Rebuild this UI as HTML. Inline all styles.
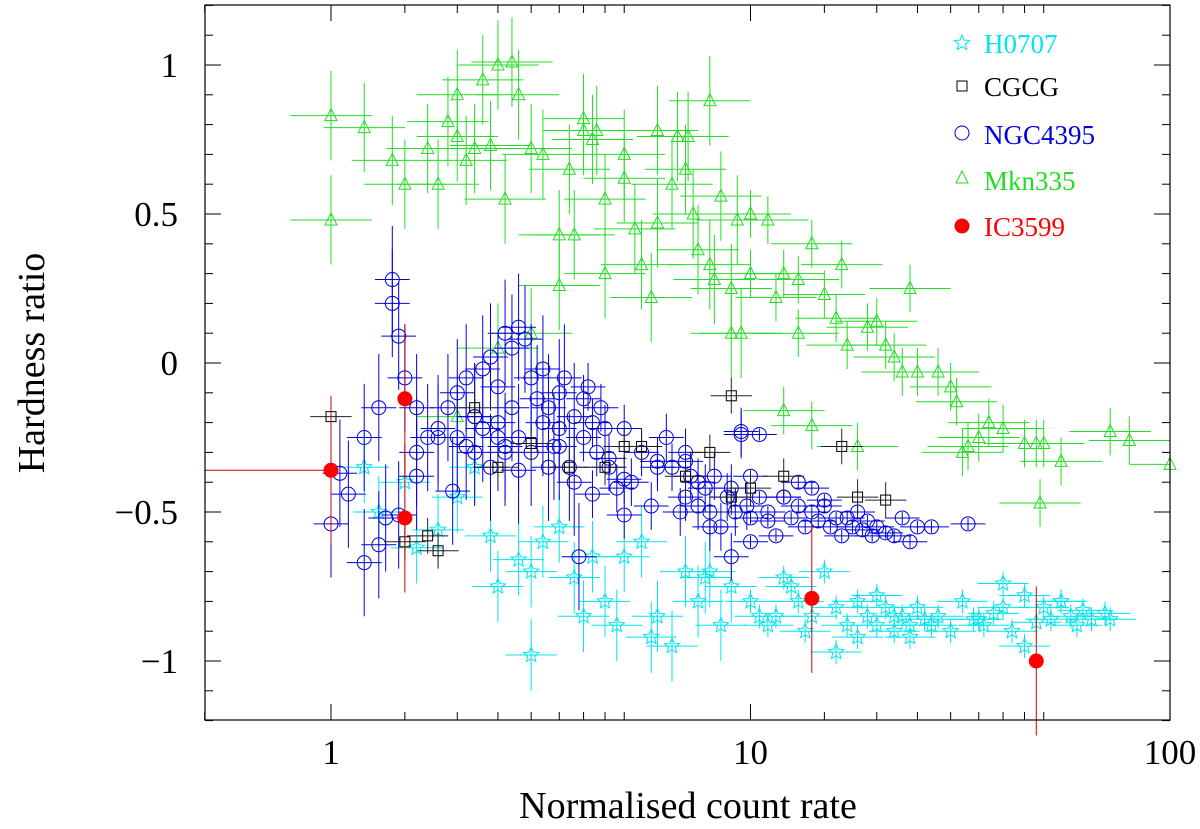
<!DOCTYPE html>
<html><head><meta charset="utf-8"><style>
html,body{margin:0;padding:0;background:#fff;}
svg{display:block;font-family:"Liberation Serif",serif;}
</style></head><body>
<svg id="chart" width="1200" height="829" viewBox="0 0 1200 829">
<g id="marks"></g>
<g id="axes"></g>
<g id="legend">
 <text x="984" y="53" font-size="27" fill="#00e5ee">H0707</text>
 <text x="984" y="96" font-size="27" fill="#000">CGCG</text>
 <text x="984" y="144" font-size="27" fill="#0000dd">NGC4395</text>
 <text x="984" y="190" font-size="27" fill="#22dd22">Mkn335</text>
 <text x="984" y="236" font-size="27" fill="#ff0000">IC3599</text>
</g>
<text x="688" y="818" font-size="38" text-anchor="middle">Normalised count rate</text>
<text transform="translate(44,363) rotate(-90)" font-size="38" text-anchor="middle">Hardness ratio</text>
</svg>
<script>
const xTicks=[1,10,100];
const xTickLabels=["1","10","100"];
const yTicks=[-1,-0.5,0,0.5,1];
const yTickLabels=["\u22121","\u22120.5","0","0.5","1"];
const redX=[1.0,1.5,1.5,14,48];
const redY=[-0.36,-0.12,-0.52,-0.79,-1.0];
const blackX=[1.0,1.5,1.7,1.8,2.2,2.5,3.0,3.7,4.5,5.0,5.5,7.0,8.0,9.0,9.0,10,16.5,18,21,12];
const blackY=[-0.18,-0.60,-0.58,-0.63,-0.15,-0.35,-0.27,-0.35,-0.35,-0.28,-0.28,-0.38,-0.30,-0.11,-0.45,-0.42,-0.28,-0.45,-0.46,-0.38];
const greenX=[1,1,1.2,1.4,1.5,1.7,1.8,1.9,2,2,2.1,2.2,2.3,2.4,2.5,2.6,2.7,2.8,3,3.2,3.5,3.5,3.7,4,4.2,4.3,4.5,4.5,5,5,5.3,5.5,5.8,6,6.5,6.7,7,7.1,7.3,7.5,8,8,8.2,8.5,9,9.3,9.5,10,10,11,11.5,12,13,14,15,16,16.5,17,19,20,21,22,23,24,25,28,30,31,32,33,35,37,40,45,48,50,55,72,80,100,12,14,18,49,2,3,2.5,6,3.8,4,9,13];
const greenY=[0.83,0.48,0.79,0.68,0.60,0.72,0.60,0.81,0.90,0.76,0.68,0.72,0.95,0.73,1.0,0.55,1.01,0.90,0.72,0.70,0.43,0.26,0.65,0.78,0.75,0.78,0.55,0.30,0.70,0.62,0.45,0.33,0.22,0.47,0.60,0.76,0.65,0.76,0.50,0.38,0.88,0.33,0.28,0.56,0.25,0.48,0.10,0.50,0.30,0.48,0.22,0.30,0.28,0.40,0.23,0.15,0.33,0.06,0.12,0.14,0.06,0.02,-0.03,0.25,-0.03,-0.03,-0.08,-0.13,-0.30,-0.28,-0.25,-0.20,-0.22,-0.27,-0.27,-0.27,-0.33,-0.23,-0.26,-0.34,-0.16,-0.21,-0.28,-0.47,-0.18,0.10,0.05,0.78,0.43,0.82,0.10,0.10];
const blueX=[1.4,1.4,1.45,1.5,1.3,1.2,1.1,1.0,1.05,1.2,1.3,1.35,1.6,1.7,1.6,1.8,1.9,2.0,2.0,2.1,2.1,2.2,2.2,2.3,2.3,2.4,2.4,2.5,2.5,2.6,2.6,2.7,2.7,2.8,2.8,2.9,3.0,3.0,3.1,3.2,3.2,3.3,3.4,3.5,3.5,3.6,3.7,3.8,3.9,4.0,4.0,4.1,4.2,4.3,4.4,4.5,4.6,4.8,5.0,5.0,5.2,5.5,5.8,6.0,6.3,6.5,6.8,7.0,7.0,7.2,7.5,7.8,8.0,8.2,8.5,8.8,9.0,9.2,9.5,9.8,10,10,10.5,11,11.5,12,12.5,13,13.5,14,14.5,15,15.5,16,16.5,17,17.5,18,18.5,19,19.5,20,21,22,23,24,25,13,14,15,12,11,10,9,8,7.5,3.8,4.2,2.8,2.2,1.8,1.6,2.5,3.5,6,7,5,4.6,9.5,10.5,27,33,1.45,1.95,2.6,3.3];
const blueY=[0.28,0.20,0.09,-0.05,-0.15,-0.25,-0.44,-0.54,-0.37,-0.67,-0.61,-0.52,-0.38,-0.25,-0.30,-0.22,-0.15,-0.10,-0.25,-0.05,-0.28,-0.18,-0.30,-0.02,-0.22,0.02,-0.35,-0.08,-0.20,0.10,-0.28,0.05,-0.15,0.12,-0.25,0.08,-0.05,-0.30,-0.12,-0.02,-0.20,-0.15,-0.28,-0.10,-0.22,-0.05,-0.35,-0.18,-0.65,-0.12,-0.25,-0.08,-0.20,-0.30,-0.15,-0.22,-0.35,-0.42,-0.51,-0.22,-0.40,-0.30,-0.48,-0.33,-0.25,-0.35,-0.50,-0.30,-0.45,-0.38,-0.48,-0.42,-0.50,-0.38,-0.55,-0.45,-0.42,-0.50,-0.24,-0.48,-0.52,-0.38,-0.45,-0.50,-0.58,-0.45,-0.52,-0.48,-0.55,-0.50,-0.53,-0.48,-0.55,-0.52,-0.58,-0.52,-0.55,-0.50,-0.56,-0.53,-0.58,-0.55,-0.57,-0.58,-0.52,-0.60,-0.55,-0.40,-0.42,-0.46,-0.45,-0.53,-0.60,-0.65,-0.55,-0.40,-0.40,-0.44,-0.36,-0.18,-0.25,-0.15,-0.25,-0.28,-0.35,-0.33,-0.39,-0.32,-0.23,-0.24,-0.55,-0.54,-0.51,-0.43,-0.30,-0.35];
const cyanX=[1.2,1.3,1.5,1.6,1.8,2.0,2.2,2.4,2.5,2.8,3.0,3.0,3.2,3.5,3.8,4.0,4.2,4.5,4.8,5.0,5.5,5.8,6.0,6.5,7.0,7.5,7.8,8.0,8.5,9.0,10,10.5,11,11.5,12,12.5,13,13.5,14,15,16,17,18,19,20,21,22,23,24,25,26,27,28,30,32,34,36,38,40,42,45,48,50,52,55,58,60,62,65,70,72,16,18,20,22,24,35,40,45,55];
const cyanY=[-0.35,-0.50,-0.40,-0.62,-0.56,-0.45,-0.35,-0.58,-0.75,-0.66,-0.98,-0.70,-0.60,-0.55,-0.72,-0.85,-0.65,-0.80,-0.88,-0.65,-0.60,-0.92,-0.85,-0.95,-0.70,-0.80,-0.72,-0.70,-0.88,-0.75,-0.80,-0.85,-0.88,-0.85,-0.72,-0.75,-0.80,-0.90,-0.85,-0.70,-0.82,-0.88,-0.80,-0.85,-0.88,-0.82,-0.90,-0.85,-0.88,-0.82,-0.86,-0.88,-0.85,-0.90,-0.80,-0.86,-0.88,-0.84,-0.82,-0.90,-0.78,-0.87,-0.82,-0.86,-0.80,-0.85,-0.88,-0.83,-0.86,-0.84,-0.86,-0.97,-0.92,-0.78,-0.85,-0.92,-0.86,-0.74,-0.95,-0.80];

const L=205,R=1170,T=5,B=720;
const X=v=>331+419.5*Math.log10(v);
const Y=v=>363-298*v;
const NS='http://www.w3.org/2000/svg';
const marks=document.getElementById('marks');
const axes=document.getElementById('axes');
function mk(tag,attrs,parent){const e=document.createElementNS(NS,tag);for(const k in attrs)e.setAttribute(k,attrs[k]);parent.appendChild(e);return e;}

function errbars(x,y,col,fx,dy,g){
  for(let i=0;i<x.length;i++){
    const cx=X(x[i]),cy=Y(y[i]);
    mk('line',{x1:X(x[i]/fx),x2:Math.min(X(x[i]*fx),R),y1:cy,y2:cy,stroke:col,'stroke-width':1},g);
    const e=typeof dy==='function'?dy(i):dy;
    mk('line',{x1:cx,x2:cx,y1:Y(y[i]+e),y2:Y(y[i]-e),stroke:col,'stroke-width':1},g);
  }
}
function star(cx,cy,r){let p=[];for(let k=0;k<10;k++){const a=-Math.PI/2+k*Math.PI/5;const rr=k%2?r*0.45:r;p.push((cx+rr*Math.cos(a)).toFixed(1)+','+(cy+rr*Math.sin(a)).toFixed(1));}return p.join(' ');}

const gC=mk('g',{},marks);
const gG=mk('g',{},marks);
const gB=mk('g',{},marks);
const gK=mk('g',{},marks);
const gR=mk('g',{},marks);

errbars(cyanX,cyanY,'#00e5ee',1.15,i=>cyanX[i]<10?0.12:0.04,gC);
cyanX.forEach((v,i)=>{const s=mk('polygon',{points:star(X(v),Y(cyanY[i]),8),fill:'none',stroke:'#00e5ee','stroke-width':1},gC);});
errbars(greenX,greenY,'#22dd22',1.25,i=>greenX[i]<10?0.15:0.08,gG);
greenX.forEach((v,i)=>{const cx=X(v),cy=Y(greenY[i]);const s=mk('polygon',{points:`${cx-6},${cy+5} ${cx+6},${cy+5} ${cx},${cy-7}`,fill:'none',stroke:'#22dd22','stroke-width':1},gG);});
errbars(blueX,blueY,'#0000dd',1.1,i=>blueX[i]<4?0.18:(blueX[i]<10?0.08:0.02),gB);
blueX.forEach((v,i)=>{const s=mk('circle',{cx:X(v),cy:Y(blueY[i]),r:7,fill:'none',stroke:'#0000dd','stroke-width':1},gB);});
errbars(blackX,blackY,'#222',1.12,0.06,gK);
blackX.forEach((v,i)=>{const s=mk('rect',{x:X(v)-5,y:Y(blackY[i])-5,width:10,height:10,fill:'none',stroke:'#000','stroke-width':1},gK);});
errbars(redX,redY,'#cc0000',1.0,0.25,gR);
mk('line',{x1:L,x2:X(1),y1:Y(-0.36),y2:Y(-0.36),stroke:'#cc0000'},gR);
redX.forEach((v,i)=>{const s=mk('circle',{cx:X(v),cy:Y(redY[i]),r:7.5,fill:'#ff0000'},gR);});

const lg=document.getElementById('legend');
mk('polygon',{points:star(962,43,8),fill:'none',stroke:'#00e5ee'},lg);
mk('rect',{x:957,y:81,width:10,height:10,fill:'none',stroke:'#000'},lg);
mk('circle',{cx:962,cy:133,r:7,fill:'none',stroke:'#0000dd'},lg);
mk('polygon',{points:'956,183 968,183 962,171',fill:'none',stroke:'#22dd22'},lg);
mk('circle',{cx:962,cy:226,r:7.5,fill:'#ff0000'},lg);

const fr=mk('rect',{x:L,y:T,width:R-L,height:B-T,fill:'none',stroke:'#000','stroke-width':1.2},axes);

for(let d=0.5;d<=100;d*=10){for(let m=1;m<10;m++){const v=d*m;if(v<0.5||v>100)continue;const px=X(v);if(px<L-0.5||px>R+0.5)continue;
 const major=[1,10,100].some(t=>Math.abs(t-v)<1e-9);const len=major?16:8;
 mk('line',{x1:px,x2:px,y1:B,y2:B-len,stroke:'#000'},axes);mk('line',{x1:px,x2:px,y1:T,y2:T+len,stroke:'#000'},axes);}}
for(let k=-12;k<=12;k++){const v=k/10;const py=Y(v);const major=k%5===0;const len=major?16:8;
 mk('line',{x1:L,x2:L+len,y1:py,y2:py,stroke:'#000'},axes);mk('line',{x1:R,x2:R-len,y1:py,y2:py,stroke:'#000'},axes);}
xTicks.forEach((v,i)=>{const t=mk('text',{x:X(v),y:764,'font-size':35,'text-anchor':'middle'},axes);t.textContent=xTickLabels[i];});
yTicks.forEach((v,i)=>{const t=mk('text',{x:178,y:Y(v)+12,'font-size':35,'text-anchor':'end'},axes);t.textContent=yTickLabels[i];});
</script>
</body></html>
